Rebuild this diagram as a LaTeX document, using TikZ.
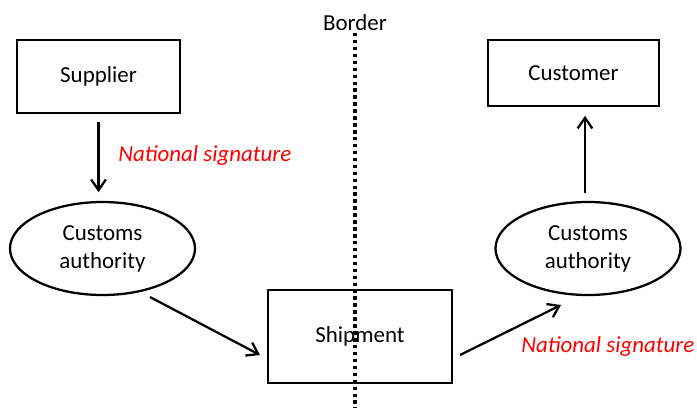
\documentclass[tikz,border=0pt]{standalone}
\usepackage{fontspec}
\setmainfont{Carlito}
\usetikzlibrary{shapes.geometric,arrows.meta,calc}
\begin{document}
\begin{tikzpicture}[x=0.75pt,y=-0.75pt,
  every node/.style={font=\fontsize{17.2}{21}\selectfont},
  box/.style={draw,line width=1.7pt,inner sep=0pt},
  oval/.style={draw,ellipse,line width=1.7pt,inner sep=0pt,align=center,
    minimum width=138.75pt,minimum height=69.75pt},
  conn/.style={line width=1.7pt,-{Straight Barb[length=8pt,width=11pt]}},
  sig/.style={text=red,font=\fontsize{17.2}{21}\selectfont\itshape,anchor=west,inner sep=0pt},
  borderline/.style={line width=3.3pt,dash pattern=on 2.6pt off 2.6pt}]
\useasboundingbox (0,0) rectangle (697,408);
\node[box,minimum width=122.25pt,minimum height=54.75pt] (sup) at (98.5,76.5) {Supplier};
\node[box,minimum width=128.25pt,minimum height=49.5pt] (cus) at (573.5,73) {Customer};
\node[box,minimum width=138pt,minimum height=69.75pt] (shp) at (360,336.5) {\raisebox{2pt}{Shipment}};
\node[oval] (ca1) at (102.5,248.5) {Customs\\authority};
\node[oval] (ca2) at (588,248.5) {Customs\\authority};
\node[inner sep=0pt] (brd) at (355,22.5) {Border};
\coordinate (bt) at (355,33);
\coordinate (bb) at (355,408);
\draw[borderline] (bt) -- (bb);
\draw[conn,shorten <=6pt,shorten >=6.5pt] (sup.south) -- (sup.south |- ca1.north);
\draw[conn] ($(ca1.center)+(47.5,48.5)$) -- ($(shp.center)+(-100,18.5)$);
\draw[conn] ($(shp.center)+(100,18.5)$) -- ($(ca2.center)+(-27,56.5)$);
\coordinate (ca2top) at ($(ca2.north)+(-3,0)$);
\draw[conn,shorten <=6pt,shorten >=6.5pt] (ca2top) -- (ca2top |- cus.south);
\node[sig] (sig1) at (118,155) {National signature};
\node[sig] (sig2) at (521,346) {National signature};
\end{tikzpicture}
\end{document}
